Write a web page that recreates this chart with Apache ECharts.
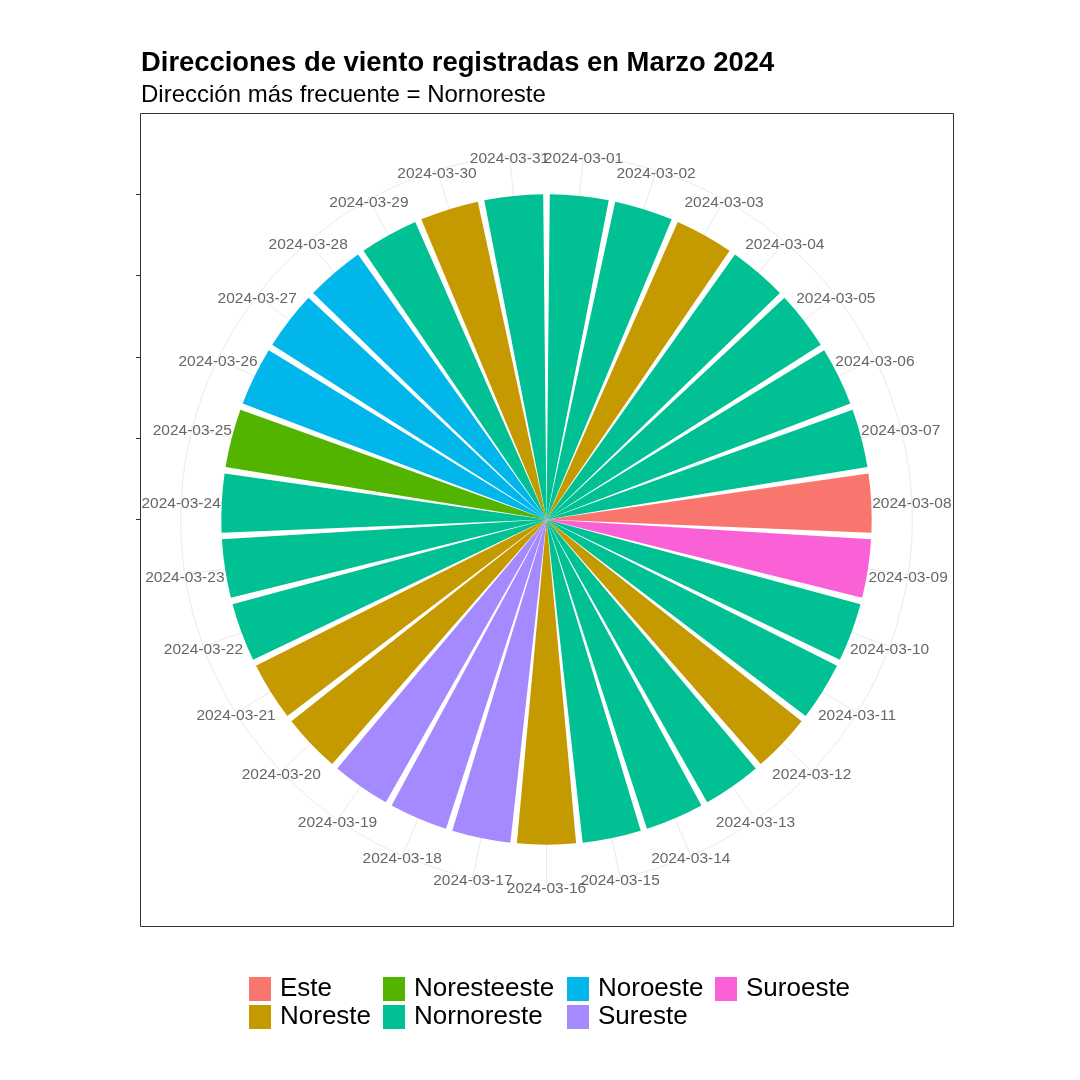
<!DOCTYPE html>
<html>
<head>
<meta charset="utf-8">
<title>Direcciones de viento</title>
<script src="https://cdn.jsdelivr.net/npm/echarts@6/dist/echarts.min.js"></script>
</head>
<body style="margin:0">
<div id="main" style="width:1080px;height:1080px;"></div>
<script type="text/javascript">
// dias de marzo y direccion registrada cada dia
var dates = ['2024-03-01','2024-03-02','2024-03-03','2024-03-04','2024-03-05','2024-03-06','2024-03-07','2024-03-08',
  '2024-03-09','2024-03-10','2024-03-11','2024-03-12','2024-03-13','2024-03-14','2024-03-15','2024-03-16',
  '2024-03-17','2024-03-18','2024-03-19','2024-03-20','2024-03-21','2024-03-22','2024-03-23','2024-03-24',
  '2024-03-25','2024-03-26','2024-03-27','2024-03-28','2024-03-29','2024-03-30','2024-03-31'];
var directions = ['Nornoreste','Nornoreste','Noreste','Nornoreste','Nornoreste','Nornoreste','Nornoreste','Este',
  'Suroeste','Nornoreste','Nornoreste','Noreste','Nornoreste','Nornoreste','Nornoreste','Noreste',
  'Sureste','Sureste','Sureste','Noreste','Noreste','Nornoreste','Nornoreste','Nornoreste',
  'Noresteeste','Noroeste','Noroeste','Noroeste','Nornoreste','Noreste','Nornoreste'];
var counts = [1,1,1,1,1,1,1,1,1,1,1,1,1,1,1,1,1,1,1,1,1,1,1,1,1,1,1,1,1,1,1];

var levels = ['Este','Noreste','Noresteeste','Nornoreste','Noroeste','Sureste','Suroeste'];
var colors = ['#F8766D','#C49A00','#53B400','#00C094','#00B6EB','#A58AFF','#FB61D7'];
var radialTicks = [0, 0.25, 0.5, 0.75, 1];

var font = 'Liberation Sans, Arial, sans-serif';
var myChart = echarts.init(document.getElementById('main'));

// panel 813px, como ggplot: radio de datos = 0.4, circulo exterior = 0.45
var panel = {x: 140, y: 113, size: 813};
var cx = panel.x + panel.size / 2, cy = panel.y + panel.size / 2;
var rMax = 1.125;

var series = levels.map(function (lev, k) {
  return {
    name: lev,
    type: 'bar',
    coordinateSystem: 'polar',
    stack: 'total',
    barCategoryGap: '10%',
    itemStyle: {color: colors[k]},
    silent: true,
    data: counts.map(function (c, i) { return directions[i] === lev ? c : '-'; })
  };
});

// etiquetas de fecha centradas sobre el circulo exterior
series.push({
  type: 'scatter',
  coordinateSystem: 'polar',
  symbolSize: 0,
  silent: true,
  z: 5,
  label: {
    show: true, position: 'inside', align: 'center', verticalAlign: 'middle',
    offset: [0, 3],
    color: '#404040', fontSize: 15.5, fontFamily: font,
    formatter: function (p) { return p.value[1]; }
  },
  data: dates.map(function (d) { return [rMax, d]; })
});

function legendCol(items, left) {
  return {
    data: items, orient: 'vertical', left: left - 5, top: 971,
    itemWidth: 22, itemHeight: 24, itemGap: 2,
    icon: 'rect', selectedMode: false,
    textStyle: {fontSize: 26, color: '#000', fontFamily: font, lineHeight: 24, padding: [0, 0, 0, 4]}
  };
}

var option = {
  animation: false,
  backgroundColor: '#fff',
  color: colors,
  title: {
    text: 'Direcciones de viento registradas en Marzo 2024',
    subtext: 'Dirección más frecuente = Nornoreste',
    left: 136, top: 45, itemGap: 6,
    textStyle: {fontSize: 27.4, fontWeight: 'bold', color: '#000', fontFamily: font},
    subtextStyle: {fontSize: 24, color: '#000', fontFamily: font}
  },
  legend: [
    legendCol(['Este', 'Noreste'], 249),
    legendCol(['Noresteeste', 'Nornoreste'], 383),
    legendCol(['Noroeste', 'Sureste'], 567),
    legendCol(['Suroeste'], 715)
  ],
  polar: {center: [cx, cy], radius: panel.size * 0.45},
  angleAxis: {
    type: 'category',
    data: dates,
    startAngle: 90,
    clockwise: true,
    boundaryGap: true,
    axisLine: {show: true, lineStyle: {color: '#EBEBEB', width: 1}},
    axisTick: {show: false, alignWithLabel: true, interval: 0},
    axisLabel: {show: false, interval: 0},
    splitLine: {show: true, interval: 0, lineStyle: {color: '#EBEBEB', width: 1}}
  },
  radiusAxis: {
    type: 'value', min: 0, max: rMax,
    axisLine: {show: false}, axisTick: {show: false},
    axisLabel: {show: false}, splitLine: {show: false}
  },
  // marcas del eje radial sobre el borde izquierdo
  grid: {left: panel.x, top: cy - panel.size * 0.4, width: 100, height: panel.size * 0.4},
  xAxis: {type: 'value', show: false},
  yAxis: {
    type: 'value', min: radialTicks[0], max: radialTicks[radialTicks.length - 1], interval: 0.25,
    axisLine: {show: false},
    axisTick: {show: true, length: 4, lineStyle: {color: '#333333'}},
    axisLabel: {show: false}, splitLine: {show: false}
  },
  graphic: [{
    type: 'rect', silent: true, z: 10,
    shape: {x: panel.x + 0.5, y: panel.y + 0.5, width: panel.size, height: panel.size},
    style: {fill: null, stroke: '#333333', lineWidth: 1}
  }],
  series: series
};

myChart.setOption(option);
</script>
</body>
</html>
